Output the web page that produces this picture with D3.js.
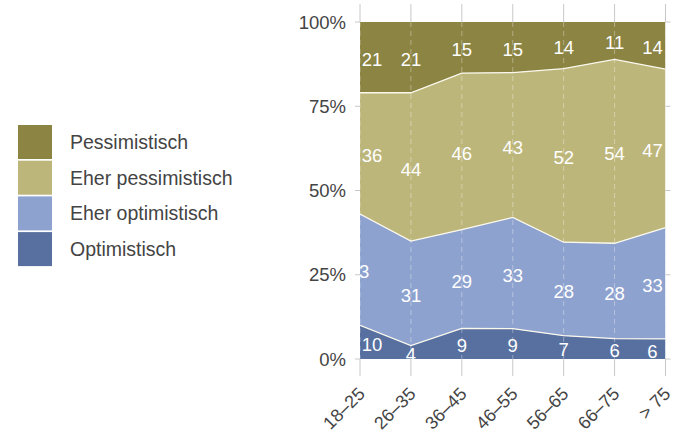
<!DOCTYPE html>
<html>
<head>
<meta charset="utf-8">
<script src="https://cdn.jsdelivr.net/npm/d3@7"></script>
<style>
  html, body { margin: 0; padding: 0; background: #fff; }
  svg { display: block; font-family: "Liberation Sans", Arial, Helvetica, sans-serif; }
</style>
</head>
<body>
<svg id="chart" width="685" height="435"></svg>
<script>
// ---- data ----
const categories = ["18–25", "26–35", "36–45", "46–55", "56–65", "66–75", "> 75"];
const seriesNames = ["Optimistisch", "Eher optimistisch", "Eher pessimistisch", "Pessimistisch"];
const optimistisch      = [10, 4, 9, 9, 7, 6, 6];
const eherOptimistisch  = [33, 31, 29, 33, 28, 28, 33];
const eherPessimistisch = [36, 44, 46, 43, 52, 54, 47];
const pessimistisch     = [21, 21, 15, 15, 14, 11, 14];
const yTickValues = [0, 0.25, 0.5, 0.75, 1];
const yTickLabels = ["0%", "25%", "50%", "75%", "100%"];
const legendOrder = ["Pessimistisch", "Eher pessimistisch", "Eher optimistisch", "Optimistisch"];

// ---- styling ----
const colors = {
  "Optimistisch": "#58709f",
  "Eher optimistisch": "#8ea2cf",
  "Eher pessimistisch": "#bdb67b",
  "Pessimistisch": "#8b8443"
};
const textColor = "#444";
const tickColor = "#c8c8c8";

const svg = d3.select("#chart");
const plot = { left: 360, right: 665.5, top: 22, bottom: 359 };

const table = categories.map((c, i) => ({
  cat: c,
  "Optimistisch": optimistisch[i],
  "Eher optimistisch": eherOptimistisch[i],
  "Eher pessimistisch": eherPessimistisch[i],
  "Pessimistisch": pessimistisch[i]
}));

const stack = d3.stack().keys(seriesNames).offset(d3.stackOffsetExpand);
const layers = stack(table);

const x = d3.scalePoint().domain(categories).range([plot.left, plot.right]);
const y = d3.scaleLinear().domain([0, 1]).range([plot.bottom, plot.top]);

// clip
svg.append("defs").append("clipPath").attr("id", "plotclip")
  .append("rect").attr("x", plot.left).attr("y", plot.top - 2)
  .attr("width", plot.right - plot.left).attr("height", plot.bottom - plot.top + 4);

// top and bottom ticks (vertical)
const xt = svg.append("g");
categories.forEach(c => {
  xt.append("line").attr("x1", x(c)).attr("x2", x(c)).attr("y1", 4).attr("y2", plot.top)
    .attr("stroke", tickColor).attr("stroke-width", 1);
  xt.append("line").attr("x1", x(c)).attr("x2", x(c)).attr("y1", plot.bottom).attr("y2", 376)
    .attr("stroke", tickColor).attr("stroke-width", 1);
});
// left/right horizontal ticks
yTickValues.forEach(v => {
  xt.append("line").attr("x1", plot.left - 5).attr("x2", plot.left).attr("y1", y(v)).attr("y2", y(v))
    .attr("stroke", tickColor);
  xt.append("line").attr("x1", plot.right).attr("x2", plot.right + 5).attr("y1", y(v)).attr("y2", y(v))
    .attr("stroke", tickColor);
});

// areas
const area = d3.area()
  .x(d => x(d.data.cat))
  .y0(d => y(d[0]))
  .y1(d => y(d[1]));
const g = svg.append("g").attr("clip-path", "url(#plotclip)");
g.selectAll("path.layer").data(layers).join("path")
  .attr("class", "layer")
  .attr("d", area)
  .attr("fill", d => colors[d.key]);

// boundary lines
const topLine = d3.line().x(d => x(d.data.cat)).y(d => y(d[1]));
g.selectAll("path.edge").data(layers.slice(0, layers.length - 1)).join("path")
  .attr("class", "edge")
  .attr("d", topLine)
  .attr("fill", "none")
  .attr("stroke", "#fbf9ee")
  .attr("stroke-width", 1.3);

// dashed vertical gridlines
categories.forEach(c => {
  g.append("line").attr("x1", x(c)).attr("x2", x(c)).attr("y1", plot.top).attr("y2", plot.bottom)
    .attr("stroke", "#ffffff").attr("stroke-opacity", 0.35)
    .attr("stroke-dasharray", "5,4").attr("stroke-width", 1);
});

// value labels
const edgeInset = 12;
layers.forEach(layer => {
  layer.forEach((d, i) => {
    const val = table[i][layer.key];
    const yc = y((d[0] + d[1]) / 2) + 2;
    let xc = x(d.data.cat);
    if (i === 0) {
      const nearTick = yTickValues.some(v => Math.abs(y(v) - yc) < 8);
      xc = nearTick ? x(d.data.cat) - 1 : x(d.data.cat) + edgeInset;
    } else if (i === categories.length - 1) {
      xc = x(d.data.cat) - edgeInset - 1;
    }
    g.append("text")
      .attr("x", xc).attr("y", yc)
      .attr("dy", "0.36em")
      .attr("text-anchor", "middle")
      .attr("fill", "#fff")
      .attr("font-size", 18.5)
      .text(val);
  });
});

// y tick labels
svg.append("g").selectAll("text").data(yTickValues).join("text")
  .attr("x", plot.left - 14)
  .attr("y", d => y(d))
  .attr("dy", "0.36em")
  .attr("text-anchor", "end")
  .attr("fill", textColor)
  .attr("font-size", 18.5)
  .text((d, i) => yTickLabels[i]);

// x tick labels
svg.append("g").selectAll("text").data(categories).join("text")
  .attr("transform", d => `translate(${x(d) + 6},${395}) rotate(-45)`)
  .attr("text-anchor", "end")
  .attr("fill", textColor)
  .attr("font-size", 18)
  .text(d => d);

// legend
const lg = svg.append("g");
legendOrder.forEach((name, i) => {
  const top = 125 + i * 35.7;
  lg.append("rect").attr("x", 18).attr("y", top).attr("width", 34).attr("height", 34)
    .attr("fill", colors[name]);
  lg.append("text").attr("x", 70).attr("y", top + 17).attr("dy", "0.36em")
    .attr("fill", textColor).attr("font-size", 19.5).text(name);
});
</script>
</body>
</html>
